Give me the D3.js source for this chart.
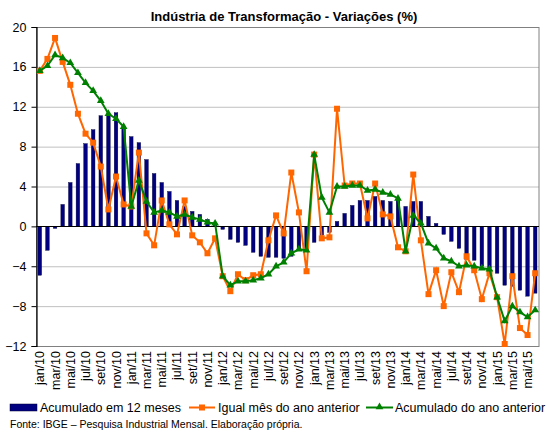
<!DOCTYPE html>
<html><head><meta charset="utf-8">
<script src="https://cdn.jsdelivr.net/npm/d3@7"></script>
<style>
body{margin:0;background:#fff;}
text{font-family:"Liberation Sans",Arial,sans-serif;fill:#000;}
</style></head>
<body><svg id="c" width="550" height="440"></svg>
<script>
const monthNames = ["jan","fev","mar","abr","mai","jun","jul","ago","set","out","nov","dez"];
const years = ["10","11","12","13","14","15"];
const categories = [];
years.forEach(y => monthNames.forEach(m => categories.push(m + "/" + y)));
categories.splice(66); // jan/10 .. jun/15

const acum12 = [-4.9,-2.4,-0.2,2.2,4.4,6.3,8.3,9.7,11.1,11.2,11.4,10.0,
  9.0,8.4,6.7,5.3,4.4,3.5,2.6,2.0,1.5,1.2,0.7,0.3,
  -0.3,-1.3,-1.6,-1.9,-2.6,-3.0,-3.1,-3.1,-3.2,-3.0,-2.3,-2.4,
  -1.6,-0.9,-0.6,0.5,1.3,2.1,2.6,2.6,3.0,2.6,2.5,2.7,
  2.0,2.5,2.5,1.0,0.3,-0.8,-1.5,-2.2,-3.3,-3.4,-4.0,-4.2,
  -4.7,-5.9,-6.0,-6.4,-7.0,-6.7];
const igualMes = [15.6,16.8,18.9,16.5,14.2,11.3,9.3,8.4,6.0,1.7,5.0,2.2,
  2.0,7.4,-0.7,-1.9,2.6,0.2,-0.8,2.6,-0.9,-1.6,-2.7,-1.2,
  -5.0,-6.5,-4.8,-5.4,-4.9,-4.8,-1.4,1.1,-0.7,5.4,1.4,-4.5,
  7.2,-1.2,-1.1,11.8,4.1,4.3,4.3,0.8,4.3,1.2,1.0,-2.1,
  -2.5,5.2,-1.4,-6.8,-4.4,-8.0,-4.6,-6.6,-3.0,-4.4,-7.3,-4.7,
  -7.1,-11.8,-5.0,-10.2,-10.9,-4.7];
const acumAno = [15.6,16.1,17.2,16.9,16.4,15.4,14.4,13.6,12.6,11.3,10.8,10.0,
  2.0,4.6,2.5,1.4,1.6,1.4,1.0,1.2,0.9,0.7,0.4,0.3,
  -5.0,-5.9,-5.5,-5.5,-5.4,-5.2,-4.8,-4.0,-3.6,-2.7,-2.3,-2.4,
  7.2,2.9,1.4,4.0,4.0,4.1,4.1,3.6,3.7,3.4,3.2,2.8,
  -2.5,1.1,0.3,-1.7,-2.2,-3.2,-3.5,-4.0,-3.9,-4.0,-4.2,-4.3,
  -7.1,-9.5,-8.0,-8.6,-9.1,-8.4];
const yTicks = [-12,-8,-4,0,4,8,12,16,20];
const seriesNames = ["Acumulado em 12 meses","Igual mês do ano anterior","Acumulado do ano anterior"];
const title = "Indústria de Transformação - Variações (%)";
const source = "Fonte: IBGE \u2013 Pesquisa Industrial Mensal. Elaboração própria.";

const svg = d3.select("#c");
const L = 36, R = 539, T = 27, B = 346;
const x = d3.scaleBand().domain(categories).range([L, R]).paddingInner(0.5).paddingOuter(0.25);
const xc = d => x(d) + x.bandwidth()/2;
const y = d3.scaleLinear().domain([-12, 20]).range([B, T]);

// gridlines
svg.append("g").selectAll("line").data(yTicks.filter(v => v > -12 && v < 20 && v !== 0)).join("line")
  .attr("x1", L).attr("x2", R).attr("y1", d => y(d) + 0.5).attr("y2", d => y(d) + 0.5)
  .attr("stroke", "#c0c0c0").attr("stroke-width", 1);
// plot border
svg.append("rect").attr("x", L + 0.5).attr("y", y(20) + 0.5).attr("width", R - L - 0.5).attr("height", y(-12) - y(20))
  .attr("fill", "none").attr("stroke", "#808080").attr("stroke-width", 1);

// bars
const bw = 3.6;
svg.append("g").selectAll("rect").data(acum12).join("rect")
  .attr("x", (d, i) => xc(categories[i]) - bw/2)
  .attr("width", bw)
  .attr("y", d => y(Math.max(0, d)))
  .attr("height", d => Math.abs(y(d) - y(0)))
  .attr("fill", "#000080").attr("stroke", "#000033").attr("stroke-width", 0.4);

// zero line
svg.append("line").attr("x1", L).attr("x2", R).attr("y1", Math.round(y(0)) + 0.5).attr("y2", Math.round(y(0)) + 0.5)
  .attr("stroke", "#000").attr("stroke-width", 1.2);

// y axis
const ya = svg.append("g").attr("transform", `translate(${L + 0.5},0)`)
  .call(d3.axisLeft(y).tickValues(yTicks).tickSize(5).tickPadding(5).tickFormat(d3.format("d")));
ya.select(".domain").attr("stroke", "#000").attr("stroke-width", 1.2);
ya.selectAll(".tick line").attr("stroke", "#000");
ya.selectAll("text").style("font-size", "12.5px").attr("font-family", null).attr("fill", "#000");

// lines
const line = d3.line().x((d, i) => xc(categories[i])).y(d => y(d));
svg.append("path").datum(igualMes).attr("d", line).attr("fill", "none").attr("stroke", "#ff6600").attr("stroke-width", 2);
svg.append("g").selectAll("rect").data(igualMes).join("rect")
  .attr("x", (d, i) => xc(categories[i]) - 3).attr("y", d => y(d) - 3)
  .attr("width", 6).attr("height", 6).attr("fill", "#ff6600");
svg.append("path").datum(acumAno).attr("d", line).attr("fill", "none").attr("stroke", "#008000").attr("stroke-width", 2);
const tri = d3.symbol().type(d3.symbolTriangle).size(26);
svg.append("g").selectAll("path").data(acumAno).join("path")
  .attr("transform", (d, i) => `translate(${xc(categories[i])},${y(d)})`)
  .attr("d", tri).attr("fill", "#008000");

// x labels
svg.append("g").selectAll("text").data(categories.filter((c, i) => i % 2 === 0)).join("text")
  .attr("transform", "rotate(-90)")
  .attr("x", -(B + 5)).attr("y", d => xc(d)).attr("dy", "0.36em")
  .attr("text-anchor", "end").style("font-size", "12.5px").text(d => d);

// title
svg.append("text").attr("x", 284).attr("y", 20.5).attr("text-anchor", "middle")
  .style("font-size", "13px").style("font-weight", "bold").text(title);

// legend
const lg = svg.append("g");
lg.append("rect").attr("x", 10).attr("y", 404).attr("width", 27).attr("height", 7).attr("fill", "#000080").attr("stroke", "#000033").attr("stroke-width", 0.5);
lg.append("text").attr("x", 40).attr("y", 412).style("font-size", "12.5px").text(seriesNames[0]);
lg.append("line").attr("x1", 189).attr("x2", 215).attr("y1", 407.5).attr("y2", 407.5).attr("stroke", "#ff6600").attr("stroke-width", 2);
lg.append("rect").attr("x", 199).attr("y", 404.5).attr("width", 6).attr("height", 6).attr("fill", "#ff6600");
lg.append("text").attr("x", 218).attr("y", 412).style("font-size", "12.5px").text(seriesNames[1]);
lg.append("line").attr("x1", 366).attr("x2", 393).attr("y1", 407.5).attr("y2", 407.5).attr("stroke", "#008000").attr("stroke-width", 2);
lg.append("path").attr("transform", "translate(379.5,407)").attr("d", tri).attr("fill", "#008000");
lg.append("text").attr("x", 395).attr("y", 412).style("font-size", "12.5px").text(seriesNames[2]);

// source
svg.append("text").attr("x", 10).attr("y", 428).style("font-size", "10.5px").text(source);
</script></body></html>
